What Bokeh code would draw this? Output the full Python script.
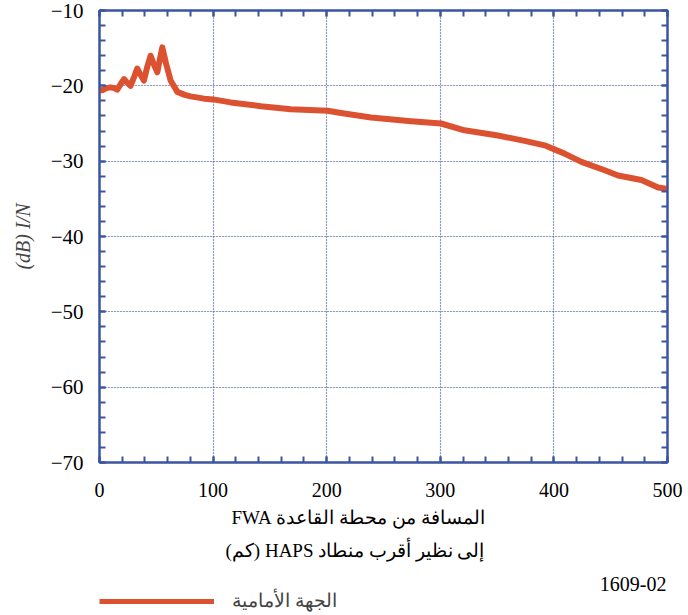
from bokeh.plotting import figure
from bokeh.layouts import column
from bokeh.models import (Range1d, LinearAxis, Legend, LegendItem, Title, Grid,
                          Label, SingleIntervalTicker)
from bokeh.embed import file_html
from bokeh.resources import INLINE

# Distance from FWA base station (km) and I/N (dB)
distance_km = [0, 2.4, 6.0, 9.7, 13.0, 15.6, 18.5, 21.5, 24.5, 27.3, 30.5, 33.2,
               36.0, 39.1, 42.0, 45.0, 48.0, 50.9, 53.5, 55.3, 58.5, 62.6, 68.5,
               75.0, 80.2, 92.0, 100.0, 115.5, 142.0, 168.4, 200.8, 212.5, 239.0,
               274.3, 300.7, 321.3, 350.7, 374.2, 391.8, 409.4, 424.2, 444.7,
               456.5, 477.0, 491.8, 500.0]
i_over_n_db = [-20.5, -20.6, -20.3, -20.2, -20.3, -20.5, -19.8, -19.1, -19.6,
               -20.0, -18.8, -17.7, -18.5, -19.3, -17.5, -16.0, -17.2, -18.2,
               -16.2, -14.9, -17.0, -19.3, -20.8, -21.2, -21.4, -21.7, -21.8,
               -22.2, -22.7, -23.1, -23.3, -23.6, -24.2, -24.7, -25.0, -25.9,
               -26.6, -27.3, -27.9, -29.0, -30.1, -31.2, -31.9, -32.5, -33.5,
               -33.7]

y_ticks = [-70, -60, -50, -40, -30, -20, -10]

RLE, PDF = "\u202b", "\u202c"
series_label = "الجهة الأمامية"
x_label_1 = RLE + "المسافة من محطة القاعدة FWA" + PDF
x_label_2 = RLE + "إلى نظير أقرب منطاد HAPS (كم)" + PDF
y_label = "(dB) I/N"
fig_id = "1609-02"

AXIS_BLUE = "#3b55a3"
CURVE = "#dc5230"
FONT = "Liberation Serif"

p = figure(width=688, height=575, output_backend="svg", toolbar_location=None,
           x_range=Range1d(0, 500), y_range=Range1d(-70, -10),
           min_border_left=99, min_border_right=21, min_border_top=10,
           min_border_bottom=113, x_axis_location=None, y_axis_location=None)
p.outline_line_color = AXIS_BLUE
p.outline_line_width = 2
p.background_fill_color = "white"
p.border_fill_color = "white"


def style_axis(ax, show_labels, size):
    ax.axis_line_color = AXIS_BLUE
    ax.axis_line_width = 2
    ax.major_tick_line_color = AXIS_BLUE
    ax.minor_tick_line_color = AXIS_BLUE
    ax.major_tick_line_width = 2
    ax.minor_tick_line_width = 2
    ax.major_tick_in = 6
    ax.major_tick_out = 0
    ax.minor_tick_in = 6
    ax.minor_tick_out = 0
    ax.major_label_text_font = FONT
    ax.major_label_text_font_size = size
    ax.major_label_text_color = "black"
    if not show_labels:
        ax.major_label_text_alpha = 0
        ax.major_label_text_font_size = "0px"
        ax.major_label_standoff = 0


xt = SingleIntervalTicker(interval=100, num_minor_ticks=5)
yt = SingleIntervalTicker(interval=10, num_minor_ticks=5)

bottom = LinearAxis(ticker=xt)
top = LinearAxis(ticker=SingleIntervalTicker(interval=100, num_minor_ticks=5))
left = LinearAxis(ticker=yt)
right = LinearAxis(ticker=SingleIntervalTicker(interval=10, num_minor_ticks=5))
style_axis(bottom, True, "20px")
style_axis(top, False, "20px")
style_axis(left, True, "21px")
style_axis(right, False, "21px")
bottom.major_label_standoff = 20
left.major_label_overrides = {v: ("\u2212" + str(abs(v)) if v < 0 else str(v)) for v in y_ticks}
left.major_label_standoff = 16
left.axis_label = y_label
left.axis_label_text_font = FONT
left.axis_label_text_font_style = "italic"
left.axis_label_text_font_size = "20px"
left.axis_label_standoff = 14
p.add_layout(bottom, "below")
p.add_layout(top, "above")
p.add_layout(left, "left")
p.add_layout(right, "right")

# dotted grid at the major ticks
p.add_layout(Grid(dimension=0, ticker=xt, grid_line_color=AXIS_BLUE,
                  grid_line_dash="1 2", grid_line_width=1.2))
p.add_layout(Grid(dimension=1, ticker=yt, grid_line_color=AXIS_BLUE,
                  grid_line_dash="1 2", grid_line_width=1.2))

p.line(distance_km, i_over_n_db, line_color=CURVE, line_width=6,
       line_join="round", line_cap="round")

# x axis title, two lines stacked under the axis
for txt, so, off in ((x_label_1, 11, 132), (x_label_2, 9, 126)):
    p.add_layout(Title(text=txt, align="left", offset=off, standoff=so,
                       text_font=FONT, text_font_size="19px",
                       text_font_style="normal", text_color="black"), "below")

# key strip: its frame lines up with the plot frame above (x 99..667 px)
key = figure(width=688, height=40, output_backend="svg", toolbar_location=None,
             x_range=Range1d(99, 667), y_range=Range1d(0, 40),
             min_border_left=0, min_border_right=0, min_border_top=0,
             min_border_bottom=0, x_axis_location=None, y_axis_location=None)
key.outline_line_color = None
key.xgrid.visible = False
key.ygrid.visible = False
# same series, outside this strip's visible y range: only its legend entry shows
key_r = key.line(distance_km, i_over_n_db, line_color=CURVE, line_width=5)
key.add_layout(Legend(items=[LegendItem(label=series_label, renderers=[key_r])],
                      location=(0, 3), glyph_width=115, glyph_height=12,
                      label_text_font=FONT, label_text_font_size="19px",
                      label_standoff=18, border_line_alpha=0,
                      background_fill_alpha=0, padding=0, margin=0))
key.add_layout(Label(x=666, y=32, text=fig_id,
                     text_font=FONT, text_font_size="20px", text_align="right",
                     text_baseline="middle", text_color="black"))

open("out.html", "w").write(file_html(column(p, key, spacing=0), INLINE))
